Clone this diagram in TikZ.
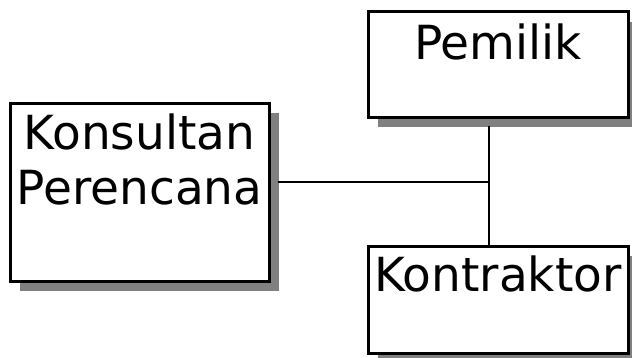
\documentclass[tikz,border=0pt]{standalone}
\usepackage{fontspec}
\setmainfont{DejaVu Sans}
\usetikzlibrary{positioning}
\usetikzlibrary{shadows}
\tikzset{
  every node/.style={
    align=center,
    inner sep=0pt,
  },
  box/.style={
    draw, line width=3pt, fill=white, rectangle,
    drop shadow={fill=black!50, opacity=1, shadow xshift=10pt, shadow yshift=-10pt},
  },
  lbl/.style={
    font=\fontsize{47}{55}\selectfont, anchor=north,
  },
}

\begin{document}
\begin{tikzpicture}[x=1pt,y=1pt,line width=2pt]
    \useasboundingbox (0,0) rectangle (632,357);
    \node[box, minimum width=259pt, minimum height=178pt] (kons) at (139.5,165) {};
    \node[box, minimum width=260pt, minimum height=105pt] (pem) at (498,292.5) {};
    \node[box, minimum width=260pt, minimum height=107pt] (kont) at (498,57.5) {};
    \node[lbl, below=11pt of kons.north] (konsT) {Konsultan\\Perencana};
    \node[lbl, below=12pt of pem.north] (pemT) {Pemilik};
    \node[lbl, below=10pt of kont.north] (kontT) {Kontraktor};
    \coordinate (jn) at (489,175);
    % lines start past the shadows
    \draw ([yshift=-7pt]pem.south -| jn) -- (kont.north -| jn);
    \draw ([xshift=7pt]kons.east |- jn) -- (jn);
  \end{tikzpicture}
\end{document}
